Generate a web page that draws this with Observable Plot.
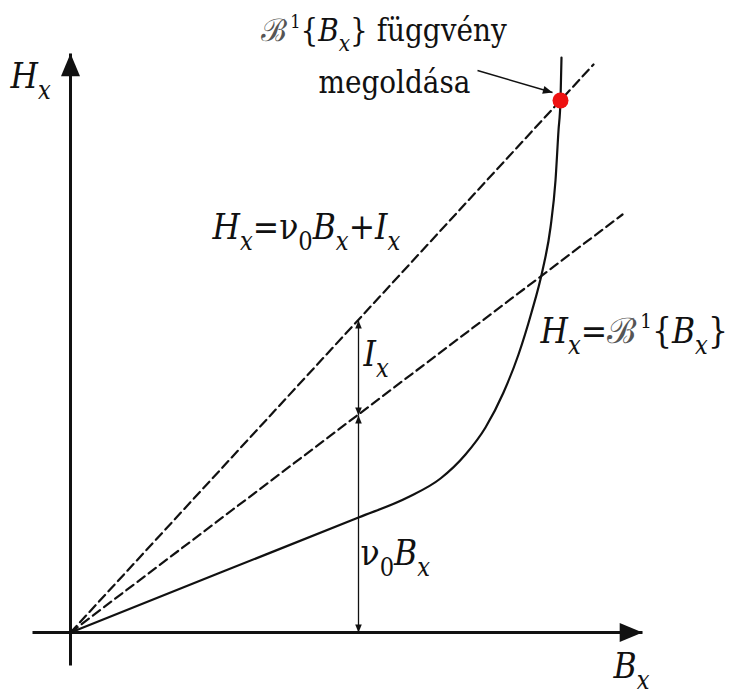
<!DOCTYPE html>
<html>
<head>
<meta charset="utf-8">
<script src="https://cdn.jsdelivr.net/npm/d3@7"></script>
<script src="https://cdn.jsdelivr.net/npm/@observablehq/plot@0.6"></script>
<style>
  html, body { margin: 0; padding: 0; background: #fff; }
  #chart svg { display: block; }
  #chart svg text, #chart svg tspan { font-family: "DejaVu Serif Condensed", "DejaVu Serif", serif !important; white-space: pre; }
</style>
</head>
<body>
<div id="chart"></div>
<script>
// Magnetisation characteristic H = ℬ⁻¹{B} (solid curve)
const curveB = [0, 1.50, 2.88, 3.37, 3.70, 3.95, 4.15, 4.33, 4.48, 4.61, 4.72, 4.80, 4.85, 4.88, 4.90, 4.91];
const curveH = [0, 0.60, 1.15, 1.35, 1.54, 1.78, 2.05, 2.40, 2.78, 3.20, 3.62, 4.05, 4.52, 5.02, 5.32, 5.75];

// Straight lines through the origin: H = ν0B + I (upper) and H = ν0B (lower)
const upperLineB = [0, 5.23];
const upperLineH = [0, 5.68];
const lowerLineB = [0, 5.52];
const lowerLineH = [0, 4.18];

// Coordinate axes (start, end)
const bAxis = [-0.38, 5.72];
const hAxis = [-0.33, 5.79];

// Where the two segments I and ν0B are measured
const measureB = 2.88;
const measureH = [0, 2.17, 3.12];

// Solution point and the arrow pointing at it
const solutionB = 4.90;
const solutionH = 5.32;
const noteArrowB = [4.07, 4.82];
const noteArrowH = [5.62, 5.40];

// Labels ("_" = subscript, "^" = superscript)
const mathLabels = ["H_x", "B_x", "H_x=ν_0B_x+I_x", "I_x", "ν_0B_x", "H_x=ℬ^1{B_x}"];
const mathLabelB = [-0.60, 5.43, 1.42, 2.93, 2.90, 4.70];
const mathLabelH = [5.45, -0.45, 3.94, 2.67, 0.68, 2.90];
const noteLabels = ["ℬ^1{B_x} függvény", "megoldása"];
const noteLabelB = [1.90, 2.48];
const noteLabelH = [5.92, 5.40];

const W = 746, Ht = 696;
const xDomain = [-0.70, 6.76];
const yDomain = [-0.64, 6.32];
const xs = d3.scaleLinear(xDomain, [0, W]);
const ys = d3.scaleLinear(yDomain, [Ht, 0]);

const rows = (bs, hs) => bs.map((b, i) => ({b, h: hs[i]}));

// Filled arrowhead whose tip sits on the point, pointing "up" before rotation
const headSymbol = {
  draw(context, size) {
    const r = Math.sqrt(size / Math.PI);
    const len = 2.4 * r;
    context.moveTo(0, 0);
    context.lineTo(-r, len);
    context.lineTo(r, len);
    context.closePath();
  }
};
function head(fromB, fromH, tipB, tipH, r) {
  const px = xs(tipB) - xs(fromB), py = ys(tipH) - ys(fromH);
  const angle = Math.atan2(py, px) * 180 / Math.PI + 90;
  return Plot.dot([{b: tipB, h: tipH}], {
    x: "b", y: "h", symbol: headSymbol, r, rotate: angle, fill: "#111", stroke: "none"
  });
}

const marks = [
  // axes
  Plot.link([{b1: bAxis[0], h1: 0, b2: bAxis[1], h2: 0}], {x1: "b1", y1: "h1", x2: "b2", y2: "h2", stroke: "#111", strokeWidth: 3}),
  Plot.link([{b1: 0, h1: hAxis[0], b2: 0, h2: hAxis[1]}], {x1: "b1", y1: "h1", x2: "b2", y2: "h2", stroke: "#111", strokeWidth: 3}),
  head(bAxis[0], 0, bAxis[1], 0, 9.5),
  head(0, hAxis[0], 0, hAxis[1], 9.5),
  // dashed straight lines
  Plot.line(rows(upperLineB, upperLineH), {x: "b", y: "h", stroke: "#111", strokeWidth: 2.2, strokeDasharray: "9,5"}),
  Plot.line(rows(lowerLineB, lowerLineH), {x: "b", y: "h", stroke: "#111", strokeWidth: 2.2, strokeDasharray: "9,5"}),
  // characteristic curve
  Plot.line(rows(curveB, curveH), {x: "b", y: "h", stroke: "#111", strokeWidth: 2.2, curve: "monotone-x"}),
  // measured segments I and ν0B
  Plot.link([
    {b1: measureB, h1: measureH[0], b2: measureB, h2: measureH[1]},
    {b1: measureB, h1: measureH[1], b2: measureB, h2: measureH[2]}
  ], {x1: "b1", y1: "h1", x2: "b2", y2: "h2", stroke: "#111", strokeWidth: 1.3}),
  head(measureB, measureH[1], measureB, measureH[0], 3.3),
  head(measureB, measureH[0], measureB, measureH[1], 3.3),
  head(measureB, measureH[2], measureB, measureH[1], 3.3),
  head(measureB, measureH[1], measureB, measureH[2], 3.3),
  // note arrow to the solution
  Plot.link([{b1: noteArrowB[0], h1: noteArrowH[0], b2: noteArrowB[1], h2: noteArrowH[1]}],
    {x1: "b1", y1: "h1", x2: "b2", y2: "h2", stroke: "#111", strokeWidth: 1.4}),
  head(noteArrowB[0], noteArrowH[0], noteArrowB[1], noteArrowH[1], 4),
  // solution point
  Plot.dot([{b: solutionB, h: solutionH}], {x: "b", y: "h", r: 8, fill: "#ee1111", stroke: "none"}),
  // labels
  Plot.text(mathLabels.map((t, i) => ({t, b: mathLabelB[i], h: mathLabelH[i]})),
    {x: "b", y: "h", text: "t", textAnchor: "start", lineAnchor: "bottom", fontSize: 35, fill: "#111"}),
  Plot.text(noteLabels.map((t, i) => ({t, b: noteLabelB[i], h: noteLabelH[i]})),
    {x: "b", y: "h", text: "t", textAnchor: "start", lineAnchor: "bottom", fontSize: 31, fill: "#111"})
];

const chart = Plot.plot({
  width: W,
  height: Ht,
  margin: 0,
  x: {domain: xDomain, axis: null},
  y: {domain: yDomain, axis: null},
  style: {fontFamily: "DejaVu Serif Condensed, DejaVu Serif, serif", background: "#fff", overflow: "visible"},
  marks
});
document.getElementById("chart").append(chart);

// Turn the "_" / "^" markup into sub- and superscript tspans; single Latin letters are set in italics
const NS = "http://www.w3.org/2000/svg";
function setRich(el) {
  const src = el.textContent;
  if (!/[_^]/.test(src) && !/[A-Za-z]/.test(src)) return;
  const fs = parseFloat(getComputedStyle(el).fontSize) || 36;
  const tokens = src.match(/[_^][^_^]|ℬ|[A-Za-zÀ-ž]+|[^_^ℬA-Za-zÀ-ž]+/gu) || [];
  el.textContent = "";
  let shift = 0;
  let prev = null;
  for (const tok of tokens) {
    let txt = tok, target = 0, scale = 1;
    if (tok[0] === "_") { txt = tok.slice(1); target = 0.34 * fs; scale = 0.72; }
    else if (tok[0] === "^") { txt = tok.slice(1); target = -0.42 * fs; scale = 0.58; }
    const span = document.createElementNS(NS, "tspan");
    span.textContent = txt;
    if (/^[A-Za-z]$/.test(txt)) span.setAttribute("font-style", "italic");
    if (txt === "ℬ") span.setAttribute("fill", "#555");
    if (prev === "ℬ") span.setAttribute("dx", (0.12 * fs).toFixed(1));
    if (scale !== 1) span.setAttribute("font-size", (fs * scale).toFixed(1));
    if (target !== shift) { span.setAttribute("dy", (target - shift).toFixed(1)); shift = target; }
    el.append(span);
    prev = txt;
  }
}
chart.querySelectorAll("text").forEach(setRich);
</script>
</body>
</html>
